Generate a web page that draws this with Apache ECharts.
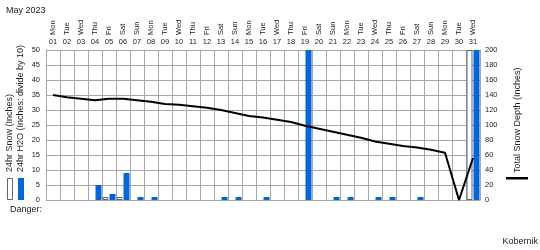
<!DOCTYPE html>
<html>
<head>
<meta charset="utf-8">
<script src="https://cdn.jsdelivr.net/npm/echarts@6/dist/echarts.min.js"></script>
<style>html,body{margin:0;padding:0;background:#fff;}#c{width:540px;height:250px;}</style>
</head>
<body>
<div id="c"></div>
<script>
var dayNums = ['01','02','03','04','05','06','07','08','09','10','11','12','13','14','15','16','17','18','19','20','21','22','23','24','25','26','27','28','29','30','31'];
var dayNames = ['Mon','Tue','Wed','Thu','Fri','Sat','Sun','Mon','Tue','Wed','Thu','Fri','Sat','Sun','Mon','Tue','Wed','Thu','Fri','Sat','Sun','Mon','Tue','Wed','Thu','Fri','Sat','Sun','Mon','Tue','Wed'];
var snow24 = [0,0,0,0,1,1,0,0,0,0,0,0,0,0,0,0,0,0,0,0,0,0,0,0,0,0,0,0,0,0,50];
var h2o24  = [0,0,0,5,2,9,1,1,0,0,0,0,1,1,0,1,0,0,50,0,1,1,0,1,1,0,1,0,0,0,50];
var totalDepth = [140,137,135,133,135,135,133,131,128,127,125,123,120,116,112,110,107,104,99,95,91,87,83,78,75,72,70,67,63,0,56];
var leftTicks = {min:0, max:50, interval:5};
var rightTicks = {min:0, max:200, interval:20};

var FONT = '"Liberation Sans", Arial, sans-serif';
var GRID = '#a8a8a8';
var TXT = '#222';

function hideZero(arr){ return arr.map(function(v){ return v === 0 ? '-' : v; }); }

var chart = echarts.init(document.getElementById('c'), null, {renderer:'canvas'});
chart.setOption({
  animation: false,
  textStyle: {fontFamily: FONT},
  grid: {left: 46, top: 50, width: 434, height: 150, containLabel: false},
  xAxis: [
    {type:'category', data: dayNums, position:'top', boundaryGap:true,
     axisLine:{show:true, lineStyle:{color:GRID}}, axisTick:{show:false},
     axisLabel:{fontSize:7.5, color:TXT, margin:4, interval:0, fontFamily:FONT},
     splitLine:{show:true, interval:0, lineStyle:{color:GRID, width:1}}},
    {type:'category', data: dayNames, position:'top', offset:12, boundaryGap:true,
     axisLine:{show:false}, axisTick:{show:false},
     axisLabel:{fontSize:7.5, color:TXT, margin:3, interval:0, rotate:90, fontFamily:FONT},
     splitLine:{show:false}}
  ],
  yAxis: [
    {type:'value', min:leftTicks.min, max:leftTicks.max, interval:leftTicks.interval, position:'left',
     axisLine:{show:true, lineStyle:{color:GRID}}, axisTick:{show:false},
     axisLabel:{fontSize:7.5, color:TXT, margin:6, fontFamily:FONT},
     splitLine:{show:true, lineStyle:{color:GRID, width:1}}},
    {type:'value', min:rightTicks.min, max:rightTicks.max, interval:rightTicks.interval, position:'right',
     axisLine:{show:true, lineStyle:{color:GRID}}, axisTick:{show:false},
     axisLabel:{fontSize:7.5, color:TXT, margin:5, fontFamily:FONT},
     splitLine:{show:false}}
  ],
  series: [
    {name:'24hr Snow (Inches)', type:'bar', xAxisIndex:0, yAxisIndex:0, data: hideZero(snow24),
     barWidth:6, barGap:'17%',
     itemStyle:{color:'#ffffff', borderColor:'#666666', borderWidth:1}, z:2},
    {name:'24hr H2O (Inches: divide by 10)', type:'bar', xAxisIndex:0, yAxisIndex:0, data: hideZero(h2o24),
     barWidth:6, barGap:'17%',
     itemStyle:{color:'#0066dd'}, z:2},
    {name:'Total Snow Depth (Inches)', type:'line', xAxisIndex:0, yAxisIndex:1, data: totalDepth,
     symbol:'none', lineStyle:{color:'#000', width:2}, z:5}
  ],
  graphic: [
    {type:'text', left:6, top:6, style:{text:'May 2023', font:'9px ' + FONT, fill:TXT}},
    {type:'text', x:10, y:172, rotation:Math.PI/2,
     style:{text:'24hr Snow (Inches)', font:'9px ' + FONT, fill:TXT, align:'left', verticalAlign:'middle'}},
    {type:'text', x:21, y:172, rotation:Math.PI/2,
     style:{text:'24hr H2O (Inches: divide by 10)', font:'9px ' + FONT, fill:TXT, align:'left', verticalAlign:'middle'}},
    {type:'rect', shape:{x:7.5, y:178.5, width:5, height:21}, style:{fill:'#fff', stroke:'#666', lineWidth:1}},
    {type:'rect', shape:{x:18, y:178, width:6, height:22}, style:{fill:'#0066dd'}},
    {type:'text', x:518, y:173, rotation:Math.PI/2,
     style:{text:'Total Snow Depth (Inches)', font:'9px ' + FONT, fill:TXT, align:'left', verticalAlign:'middle'}},
    {type:'rect', shape:{x:506, y:177, width:22, height:2.5}, style:{fill:'#000'}},
    {type:'text', x:10, y:210, style:{text:'Danger:', font:'9px ' + FONT, fill:TXT, align:'left', verticalAlign:'middle'}},
    {type:'text', x:538, y:242, style:{text:'Kobernik', font:'9px ' + FONT, fill:TXT, align:'right', verticalAlign:'middle'}}
  ]
});
</script>
</body>
</html>
